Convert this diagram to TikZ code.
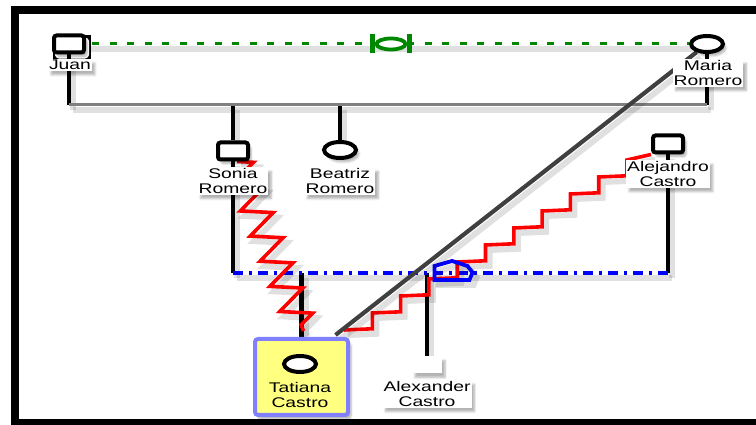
\documentclass[tikz,border=0pt]{standalone}
\usepackage{fontspec}
\setmainfont{Liberation Sans}[FakeStretch=1.38]
\usetikzlibrary{shapes.geometric,decorations.pathmorphing,shadows.blur,calc}
\definecolor{grn}{RGB}{0,135,0}
\definecolor{dgray}{RGB}{64,64,64}
\definecolor{mgray}{RGB}{128,128,128}
\definecolor{tatfill}{RGB}{255,255,128}
\definecolor{tatline}{RGB}{128,128,255}
\pgfdeclarelayer{bg}
\pgfsetlayers{bg,main}
\begin{document}
\begin{tikzpicture}[x=1pt,y=1pt,
  sh/.style={blur shadow={shadow xshift=3pt,shadow yshift=-4pt,shadow opacity=30,shadow blur steps=6}},
  lsh/.style={preaction={draw=black,draw opacity=.12,line width=6pt,transform canvas={shift={(4pt,-5pt)}}}},
  male/.style={draw=black,line width=4pt,fill=white,rounded corners=2.5pt,minimum width=30pt,minimum height=17pt,inner sep=0pt,sh},
  femalebase/.style={ellipse,draw=black,line width=4pt,fill=white,minimum width=32pt,minimum height=16pt,inner sep=0pt},
  female/.style={femalebase,sh},
  lbl/.style={fill=white,inner sep=1pt,align=center,font=\fontsize{14}{15}\selectfont,sh},
  kin/.style={draw=black,line width=4.5pt,lsh},
  redl/.style={red,line width=3.6pt,lsh},
]
\useasboundingbox (0,0) rectangle (756,425);
\begin{pgfonlayer}{bg}
  \fill[white] (0,0) rectangle (756,425);
  \draw[black!12,line width=6pt] (22,0) -- (22,408) -- (756,408);
\end{pgfonlayer}
\begin{scope}
\clip (0,0) rectangle (756,425);
\draw[line width=8pt] (15,2) rectangle (800,415);
\end{scope}

% nodes
\node[male] (juan) at (69,381) {};
\node[lbl] (juanl) at (70,360) {Juan};
\node[ellipse,draw=grn,fill=white,line width=3.8pt,minimum width=29pt,minimum height=11pt,inner sep=0pt] (ring) at (391,381) {};
\draw[grn,line width=4.5pt] ([xshift=-2pt]ring.west) ++(0,-9.5) -- ++(0,19);
\draw[grn,line width=4.5pt] ([xshift=2pt]ring.east) ++(0,-9.5) -- ++(0,19);
\node[female] (maria) at (707,381) {};
\node[lbl] (marial) at (708,352) {Maria\\Romero};
\node[male] (sonia) at (233,274) {};
\node[lbl] (sonial) at (233,244) {Sonia\\Romero};
\node[female] (beatriz) at (340,275) {};
\node[lbl] (beatrizl) at (340,244) {Beatriz\\Romero};
\node[male] (alej) at (668,281) {};
\node[lbl] (alejl) at (668,251) {Alejandro\\Castro};
\node[draw=tatline,fill=tatfill,line width=4pt,rounded corners=3pt,minimum width=93pt,minimum height=76pt,sh] (tat) at (301.5,48) {};
\node[femalebase] (tatc) at (300,61) {};
\node[align=center,font=\fontsize{14}{15}\selectfont] (tatl) at (300,30) {Tatiana\\Castro};
\node[fill=white,minimum width=30pt,minimum height=17pt,inner sep=0pt,sh] (alex) at (427,60) {};
\node[lbl] (alexl) at (427,31) {Alexander\\Castro};

\coordinate (mline) at (0,320);
\coordinate (bline) at (0,152);
\coordinate (house) at (452,154);

\begin{pgfonlayer}{bg}
  \draw[kin] (juan) -- (juan |- mline);
  \draw[kin] (maria) -- (maria |- mline);
  \draw[kin] (sonia |- mline) -- (sonia);
  \draw[kin] (beatriz |- mline) -- (beatriz);
  \draw[mgray,line width=3pt,lsh] (juan |- mline) -- (maria |- mline);
  \draw[grn,line width=3pt,dash pattern=on 7pt off 10.5pt,dash phase=11.3pt,lsh] (juan) -- (maria);
  \draw[kin] (sonia) -- (sonia |- bline);
  \draw[kin] (alej) -- (alej |- bline);
  \draw[kin] (tat |- bline) -- (tat.north);
  \draw[kin] (alex |- bline) -- (alex);
  \draw[blue,line width=3.2pt,dash pattern=on 10pt off 6pt on 3pt off 6pt,lsh] (sonia |- bline) -- (alej |- bline);
  \draw[redl,decorate,decoration={zigzag,amplitude=15pt,segment length=27pt}] (sonia) -- ($(tat.north)+(2,6)$);
  \draw[redl] ($(tat.north east)+(-6,7)$) foreach \i in {1,...,10} { -- ++(28.3,1.2) -- ++(0,15.8) } -- (alej.south west);
  \draw[blue,line width=3.8pt,lsh] ($(house)+(0,10)$) -- ++(15.5,-5) -- ++(5,-6.5) -- ++(-3,-7.5) -- ++(-35,0) -- ++(0,14) -- cycle;
  \draw[dgray,line width=4.2pt,lsh] (maria) -- ($(tat.north)+(34,2)$);
\end{pgfonlayer}
\end{tikzpicture}
\end{document}
